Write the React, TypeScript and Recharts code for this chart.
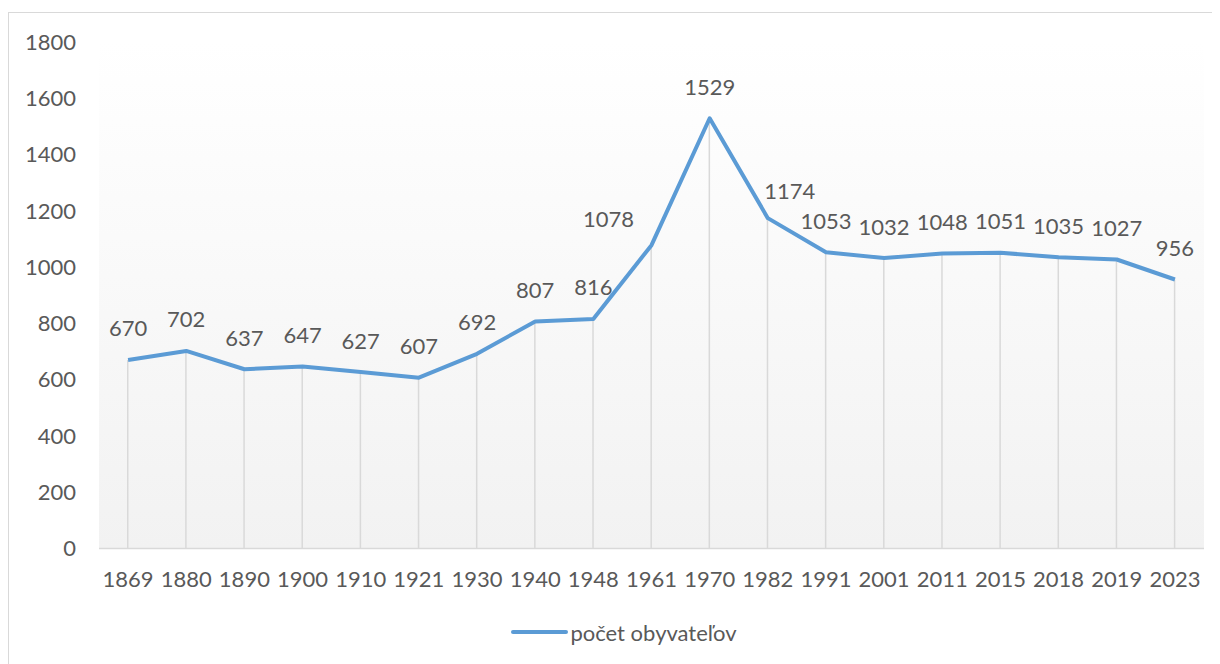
import { ComposedChart, Line, Bar, XAxis, YAxis, CartesianGrid, Legend, LabelList } from 'recharts'

const years = ['1869', '1880', '1890', '1900', '1910', '1921', '1930', '1940', '1948', '1961', '1970', '1982', '1991', '2001', '2011', '2015', '2018', '2019', '2023']
const population = [670, 702, 637, 647, 627, 607, 692, 807, 816, 1078, 1529, 1174, 1053, 1032, 1048, 1051, 1035, 1027, 956]
const yTicks = [0, 200, 400, 600, 800, 1000, 1200, 1400, 1600, 1800]
const seriesName = 'počet obyvateľov'

const data = years.map((year, i) => ({ year, pop: population[i] }))

const font = 'Lato, "Open Sans", sans-serif'
const textColor = '#595959'
const lineColor = '#5b9bd5'
const fontSize = 22

// a couple of labels were dragged aside in the original
const labelShift: Record<string, [number, number]> = {
  '1961': [-43, 5],
  '1982': [22, 4],
}

function PointLabel(props: any) {
  const { x, y, value, index } = props
  const [dx, dy] = labelShift[years[index]] || [0, 0]
  return (
    <text
      x={x + dx}
      y={y - 32 + dy}
      textAnchor="middle"
      dominantBaseline="central"
      fill={textColor}
      fontSize={fontSize}
      fontFamily={font}
    >
      {value}
    </text>
  )
}

function LegendContent() {
  return (
    <div style={{ display: 'flex', justifyContent: 'center', alignItems: 'center', height: 40, paddingLeft: 34 }}>
      <svg width={60} height={10}>
        <line x1={3} y1={5} x2={56} y2={5} stroke={lineColor} strokeWidth={4} strokeLinecap="round" />
      </svg>
      <span style={{ color: textColor, fontSize, fontFamily: font }}>{seriesName}</span>
    </div>
  )
}

export default function App() {
  return (
    <div style={{ paddingTop: 4 }}>
      <div style={{ width: 1220, height: 660, border: '1px solid #d9d9d9', background: '#fff' }}>
        <ComposedChart
          width={1210}
          height={650}
          data={data}
          margin={{ top: 29, right: 15, left: 0, bottom: 11 }}
        >
          <defs>
            <linearGradient id="plotBg" x1="0" y1="0" x2="0" y2="1">
              <stop offset="0%" stopColor="#ffffff" />
              <stop offset="100%" stopColor="#f2f2f2" />
            </linearGradient>
          </defs>
          <CartesianGrid horizontal={false} vertical={false} fill="url(#plotBg)" fillOpacity={1} />
          <XAxis
            dataKey="year"
            height={63.5}
            tickSize={0}
            tickMargin={23}
            tickLine={false}
            axisLine={{ stroke: '#d9d9d9', strokeWidth: 1.5 }}
            tick={{ fill: textColor, fontSize, fontFamily: font }}
            interval={0}
          />
          <YAxis
            width={90}
            domain={[0, 1800]}
            ticks={yTicks}
            tickSize={0}
            tickMargin={23}
            tickLine={false}
            axisLine={false}
            tick={{ fill: textColor, fontSize, fontFamily: font }}
          />
          <Legend verticalAlign="bottom" height={40} content={<LegendContent />} />
          <Bar dataKey="pop" barSize={1.5} fill="#d9d9d9" legendType="none" isAnimationActive={false} />
          <Line
            type="linear"
            dataKey="pop"
            name={seriesName}
            stroke={lineColor}
            strokeWidth={4}
            strokeLinejoin="round"
            dot={false}
            activeDot={false}
            isAnimationActive={false}
          >
            <LabelList dataKey="pop" content={<PointLabel />} />
          </Line>
        </ComposedChart>
      </div>
    </div>
  )
}
